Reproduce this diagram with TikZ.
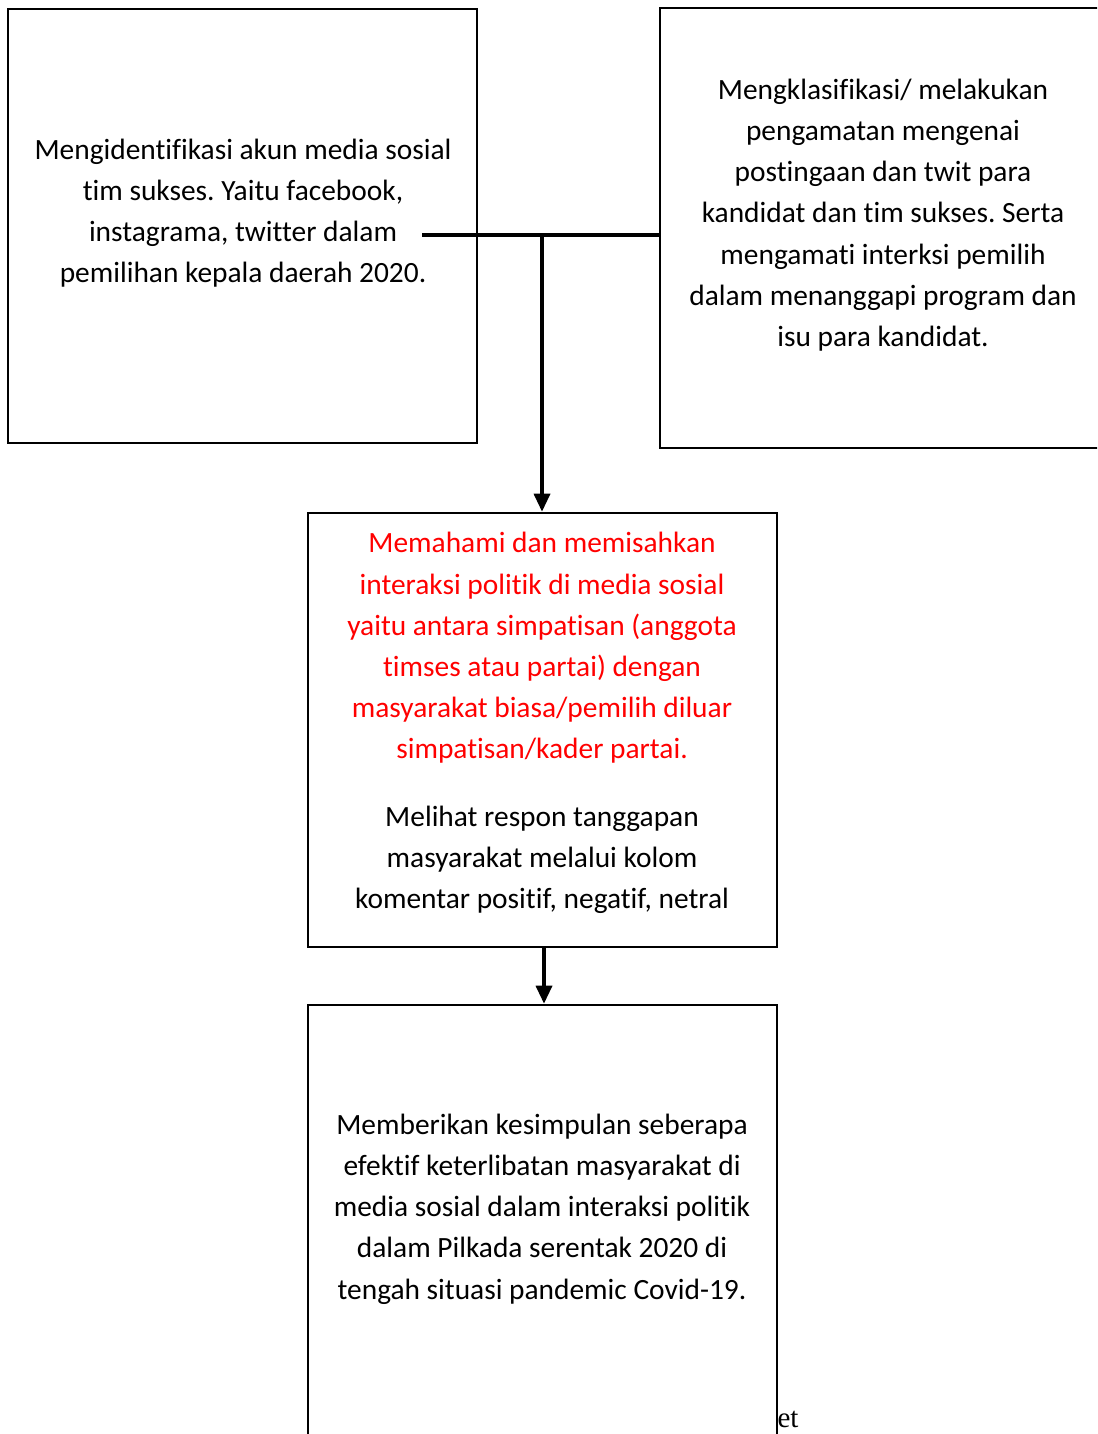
\documentclass[tikz,border=0pt]{standalone}
\usepackage{fontspec}
\setmainfont[Ligatures=NoCommon]{Carlito}
\newfontfamily\serifet{Liberation Serif}
\usetikzlibrary{fit,arrows.meta}
\begin{document}
\frenchspacing
\begin{tikzpicture}[x=0.5pt,y=-0.5pt,
  box/.style={draw,line width=1.3pt,inner sep=0pt},
  txt/.style={align=center,inner sep=0pt,font=\fontsize{14.7}{20.6}\selectfont},
  conn/.style={line width=1.7pt},
  arr/.style={line width=1.7pt,-{Triangle[length=9pt,width=8pt]}}]
\clip (0,0) rectangle (1097,1434);
\useasboundingbox (0,0) rectangle (1097,1434);
\node[box,fit={(8,9)(477,443)}] (L) {};
\node[box,fit={(660,8)(1120,448)}] (R) {};
\node[box,fit={(308,513)(777,947)}] (M) {};
\node[box,fit={(308,1005)(777,1460)}] (B) {};
\node[txt] (Lt) at (243,213) {Mengidentifikasi akun media sosial\\tim sukses. Yaitu facebook,\\instagrama, twitter dalam\\pemilihan kepala daerah 2020.};
\node[txt] (Rt) at (883,215) {Mengklasifikasi/ melakukan\\pengamatan mengenai\\postingaan dan twit para\\kandidat dan tim sukses. Serta\\mengamati interksi pemilih\\dalam menanggapi program dan\\isu para kandidat.};
\node[txt,text=red] (Mr) at (542,648) {Memahami dan memisahkan\\interaksi politik di media sosial\\yaitu antara simpatisan (anggota\\timses atau partai) dengan\\masyarakat biasa/pemilih diluar\\simpatisan/kader partai.};
\node[txt] (Mb) at (542,860) {Melihat respon tanggapan\\masyarakat melalui kolom\\komentar positif, negatif, netral};
\node[txt] (Bt) at (542,1209) {Memberikan kesimpulan seberapa\\efektif keterlibatan masyarakat di\\media sosial dalam interaksi politik\\dalam Pilkada serentak 2020 di\\tengah situasi pandemic Covid-19.};
\node[inner sep=0pt,font=\serifet\fontsize{14.5}{16}\selectfont] (et) at (788,1419) {et};
\coordinate (hs) at (422,235);
\coordinate (J) at (542,235);
\draw[conn] (hs) -- (R.west |- hs);
\draw[arr] (J) -- (J |- M.north);
\draw[arr] ([xshift=0.75pt]M.south) -- ([xshift=0.75pt]M.south |- B.north);
\end{tikzpicture}
\end{document}
